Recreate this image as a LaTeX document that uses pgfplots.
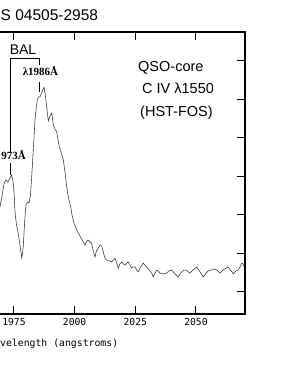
\documentclass[border=0pt]{standalone}
\usepackage{pgfplots}
\pgfplotsset{compat=1.18}
\usepackage{fontspec}
\setmainfont{Liberation Sans}
\newfontfamily\monofont{DejaVu Sans Mono}
\newfontfamily\seriffont{Liberation Serif}
\pgfplotstableread{
lam f
1968.00 3.08
1969.23 3.21
1970.06 3.49
1970.88 3.81
1971.70 3.91
1972.53 3.86
1973.35 3.96
1974.05 4.04
1974.59 3.88
1975.00 3.60
1975.41 3.08
1976.03 2.74
1976.65 2.56
1977.27 2.30
1977.88 2.04
1978.17 1.88
1978.50 1.99
1978.83 2.19
1979.20 2.61
1979.53 2.95
1979.94 3.26
1980.56 3.34
1981.18 3.31
1981.80 3.52
1982.21 3.91
1982.71 4.43
1983.24 5.00
1983.65 5.47
1984.15 5.78
1984.60 5.99
1985.10 6.07
1985.71 6.07
1986.41 6.17
1986.95 6.27
1987.36 6.32
1987.90 6.12
1988.47 5.81
1989.14 5.44
1989.83 5.57
1990.54 5.65
1991.20 5.34
1991.90 5.23
1992.60 5.16
1993.13 4.97
1993.67 4.77
1994.37 4.64
1995.32 4.43
1996.02 4.12
1996.72 3.73
1997.46 3.44
1998.37 3.21
1998.90 3.00
1999.72 2.79
2000.84 2.61
2002.20 2.45
2003.56 2.30
2004.25 2.22
2004.88 2.32
2005.62 2.35
2006.32 2.30
2007.02 2.25
2007.76 2.04
2008.38 1.91
2009.00 2.07
2009.74 2.14
2010.44 2.22
2011.14 2.19
2011.80 2.04
2012.50 1.88
2013.20 1.83
2014.15 1.81
2015.26 1.78
2016.00 1.83
2016.62 1.88
2017.32 1.75
2017.98 1.62
2018.68 1.73
2019.38 1.78
2020.04 1.73
2020.74 1.70
2021.44 1.75
2022.10 1.78
2022.80 1.70
2023.50 1.62
2024.16 1.65
2024.86 1.65
2025.56 1.57
2026.22 1.52
2027.13 1.65
2028.28 1.75
2028.98 1.70
2029.68 1.65
2030.34 1.60
2031.04 1.55
2031.74 1.49
2032.40 1.39
2033.10 1.49
2033.80 1.57
2034.34 1.55
2035.16 1.49
2036.40 1.47
2037.92 1.49
2038.87 1.55
2039.98 1.57
2041.34 1.47
2042.70 1.39
2043.41 1.47
2044.11 1.52
2045.05 1.57
2046.16 1.57
2046.91 1.52
2047.53 1.49
2048.76 1.57
2050.29 1.65
2051.65 1.52
2053.01 1.39
2054.12 1.49
2055.07 1.55
2056.18 1.57
2057.83 1.60
2058.86 1.55
2059.89 1.49
2061.13 1.57
2062.36 1.62
2063.31 1.65
2064.42 1.55
2065.37 1.47
2066.48 1.55
2067.43 1.57
2068.13 1.65
2068.83 1.75
2069.37 1.73
2069.90 1.65
}\spectrum
\begin{document}
\begin{tikzpicture}[x=1pt,y=1pt]
\useasboundingbox (0,0) rectangle (294,366);
\clip (0,0) rectangle (294,366);
\begin{axis}[
  at={(245pt,52pt)}, anchor=south east,
  scale only axis, width=413pt, height=282pt,
  xmin=1900, xmax=2070.2, ymin=0.4286, ymax=7.7532,
  xtick={1975,2000,2025,2050},
  ytick={1,2,3,4,5,6,7}, yticklabels={},
  tick align=inside, major tick length=8pt,
  axis line style={line width=1.2pt},
  every tick/.style={line width=1pt, black},
  xticklabel style={font=\monofont\fontsize{9.7}{11}\selectfont, yshift=-1pt},
  /pgf/number format/assume math mode=true,
  /pgf/number format/1000 sep={},
]
\addplot[color=black!80, line width=0.55pt, mark=none] table[x=lam, y=f] {\spectrum};
\end{axis}
% texts
\node[anchor=base west, font=\fontsize{15.5}{18}\selectfont, inner sep=0pt] at (0.5,345.3) {S 04505-2958};
\node[anchor=base, font=\fontsize{14}{16}\selectfont, inner sep=0pt] at (23,311) {BAL};
\draw[line width=0.9pt] (10,214) -- (10,308) -- (39,308) -- (39,301);
\draw[line width=0.9pt] (10,191) -- (10,203);
\draw[line width=0.9pt] (39,274) -- (39,284);
\node[anchor=base, font=\seriffont\bfseries\fontsize{11}{13}\selectfont, inner sep=0pt] at (40.5,290) {λ1986Å};
\node[anchor=base east, font=\seriffont\bfseries\fontsize{11}{13}\selectfont, inner sep=0pt] at (26,206) {973Å};
\node[anchor=base west, font=\fontsize{14.5}{17}\selectfont, inner sep=0pt] at (138,294.3) {QSO-core};
\node[anchor=base west, font=\fontsize{14.5}{17}\selectfont, inner sep=0pt] at (142,272.7) {C IV λ1550};
\node[anchor=base west, font=\fontsize{14.5}{17}\selectfont, inner sep=0pt] at (140,249.3) {(HST-FOS)};
\node[anchor=west, font=\monofont\fontsize{9.8}{11}\selectfont, inner sep=0pt] at (0,22) {velength (angstroms)};
\end{tikzpicture}
\end{document}
